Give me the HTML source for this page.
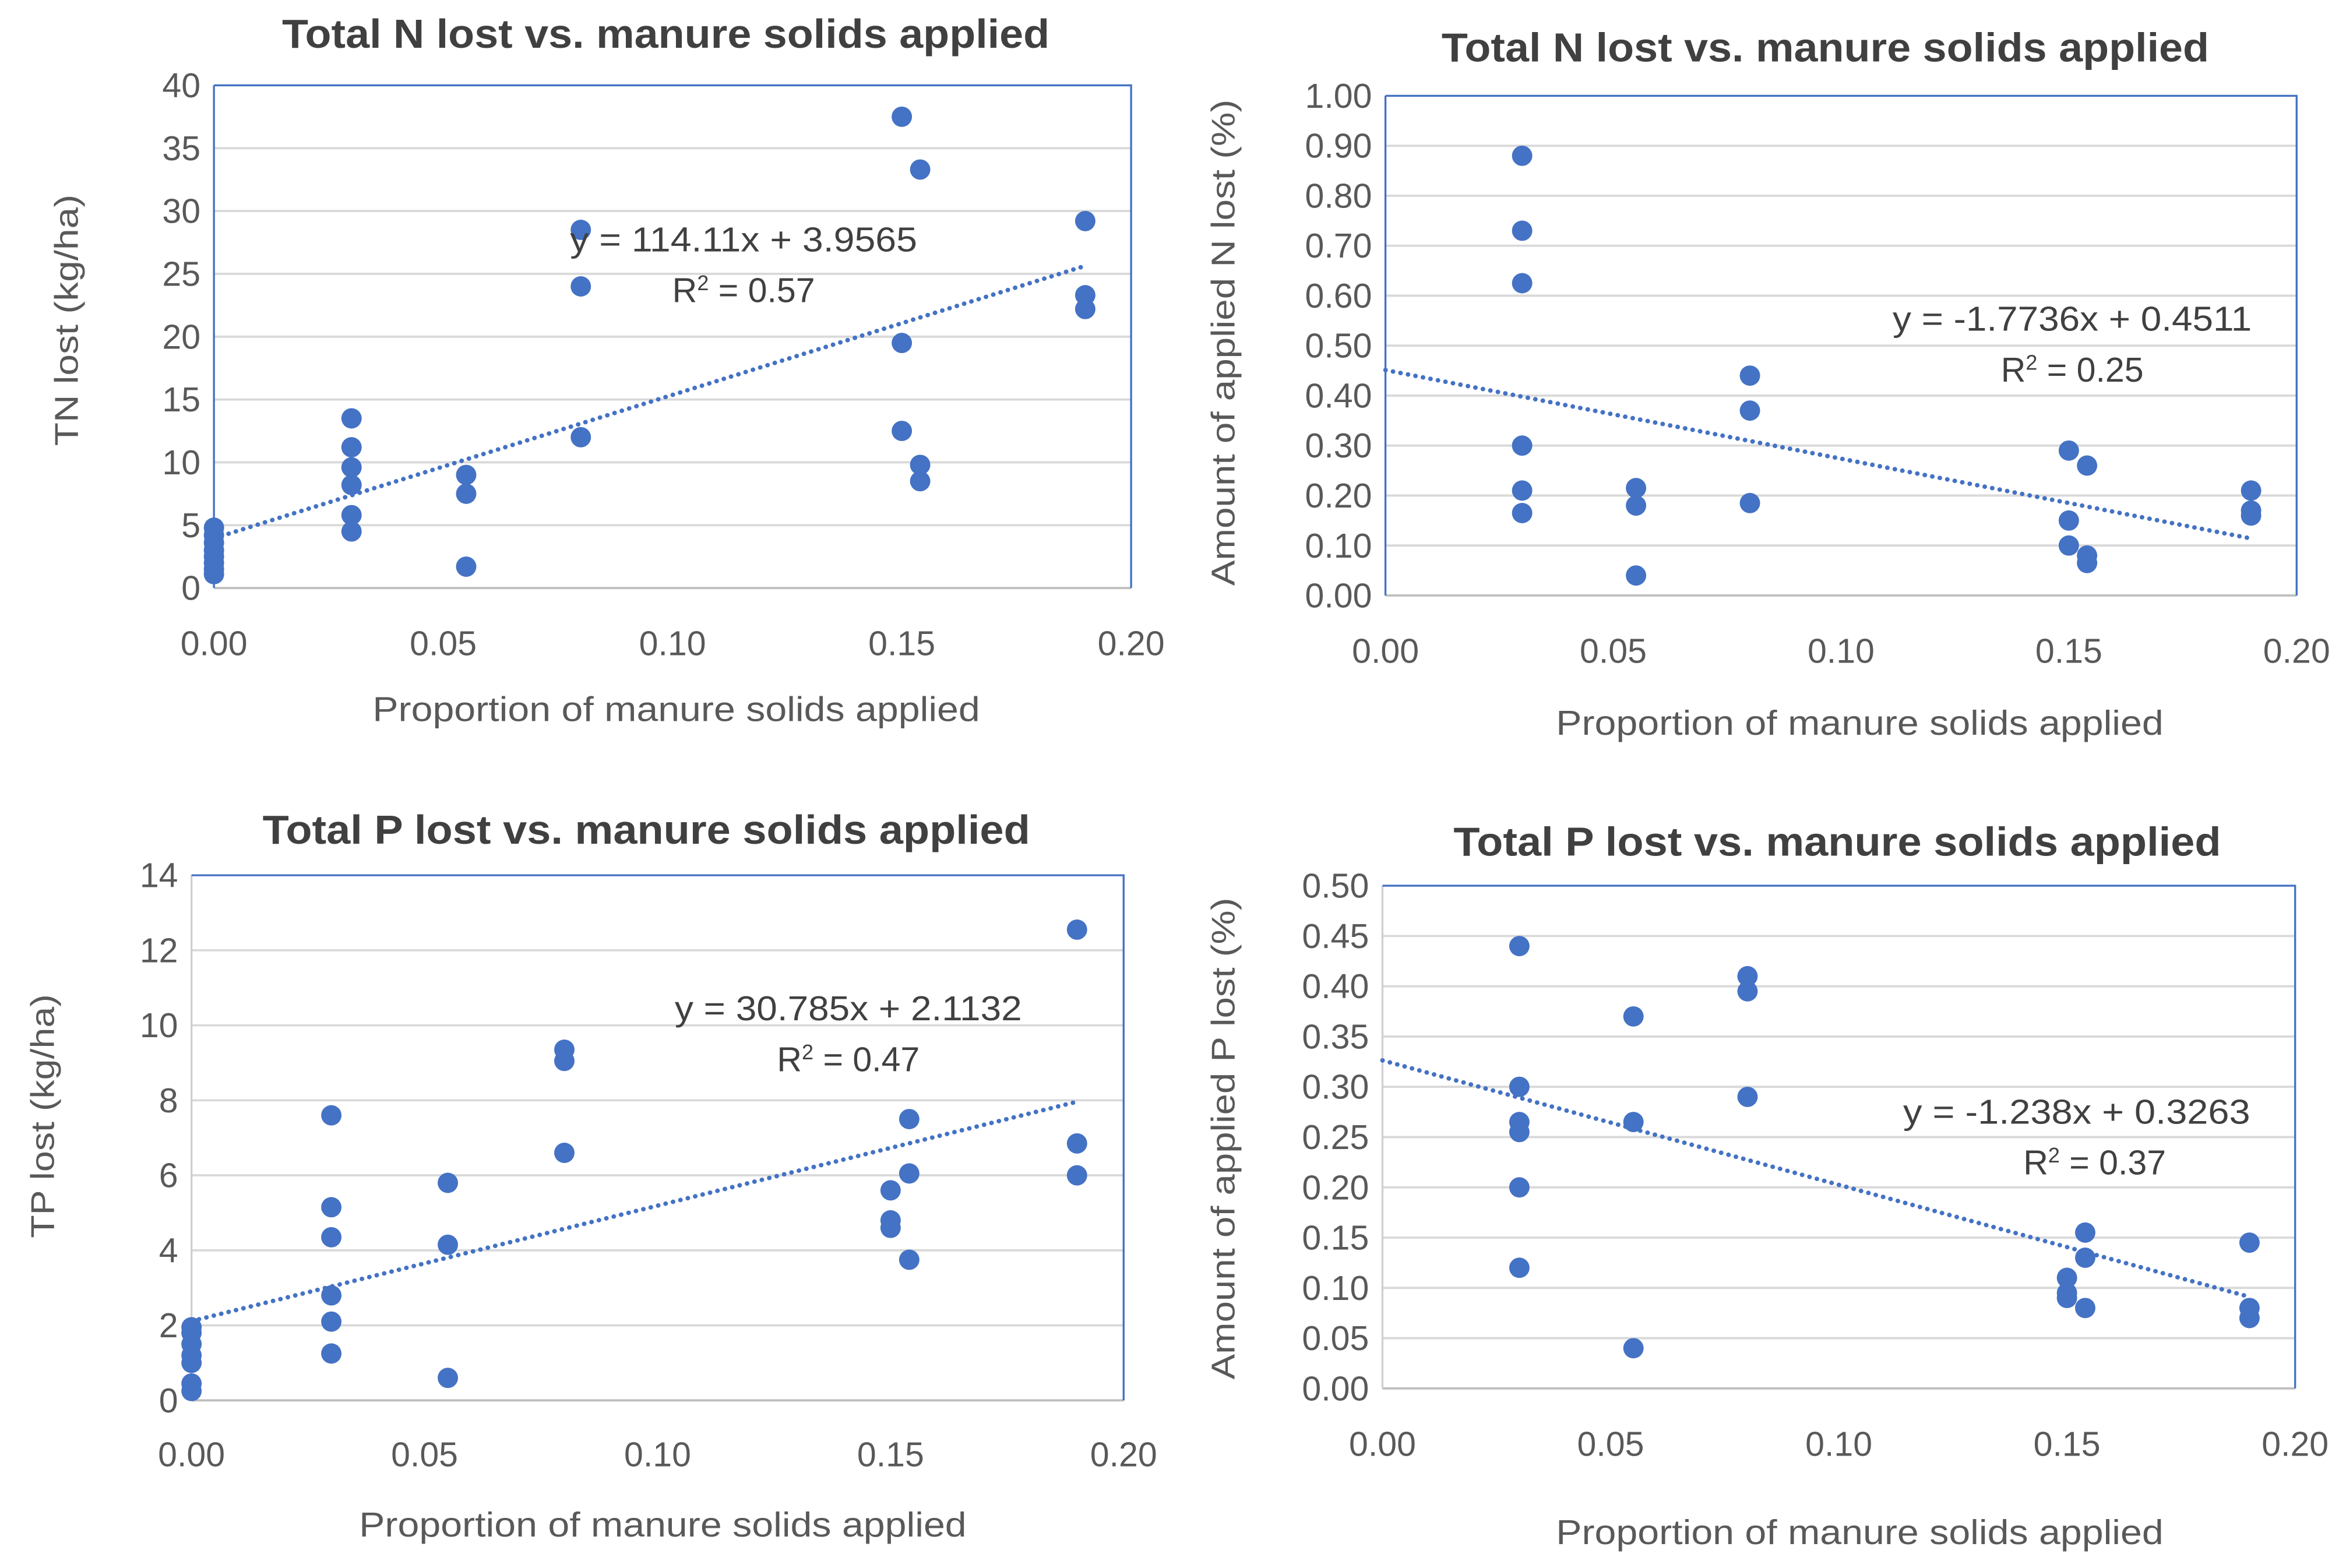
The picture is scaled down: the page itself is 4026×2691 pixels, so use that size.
<!DOCTYPE html>
<html><head><meta charset="utf-8"><style>
html,body{margin:0;padding:0;background:#fff;}
svg{display:block;}
text{font-family:"Liberation Sans",sans-serif;}
</style></head>
<body>
<svg id="fig" xmlns="http://www.w3.org/2000/svg" width="4026" height="2691" viewBox="0 0 1568 1048"></svg>
<script>
// ---- Chart 1 data: TN lost ----
const c1X = [0,0,0,0,0,0,0,0, 0.03,0.03,0.03,0.03,0.03,0.03, 0.055,0.055,0.055, 0.08,0.08,0.08, 0.15,0.15,0.15, 0.154,0.154,0.154, 0.19,0.19,0.19];
const c1Y = [4.8,4.2,3.6,3.0,2.5,2.0,1.5,1.1, 13.5,11.2,9.6,8.2,5.8,4.5, 9.0,7.5,1.7, 28.5,24.0,12.0, 37.5,19.5,12.5, 33.3,9.8,8.5, 29.2,23.3,22.2];
const c1Trend = [114.11, 3.9565];
const c1YTicks = ["0","5","10","15","20","25","30","35","40"];
// ---- Chart 2 data: applied N lost ----
const c2X = [0.03,0.03,0.03,0.03,0.03,0.03, 0.055,0.055,0.055, 0.08,0.08,0.08, 0.15,0.15,0.15, 0.154,0.154,0.154, 0.19,0.19,0.19];
const c2Y = [0.88,0.73,0.625,0.30,0.21,0.165, 0.215,0.18,0.04, 0.44,0.37,0.185, 0.29,0.15,0.10, 0.26,0.08,0.065, 0.21,0.17,0.16];
const c2Trend = [-1.7736, 0.4511];
const c2YTicks = ["0.00","0.10","0.20","0.30","0.40","0.50","0.60","0.70","0.80","0.90","1.00"];
// ---- Chart 3 data: TP lost ----
const c3X = [0,0,0,0,0,0,0, 0.03,0.03,0.03,0.03,0.03,0.03, 0.055,0.055,0.055, 0.08,0.08,0.08, 0.15,0.15,0.15, 0.154,0.154,0.154, 0.19,0.19,0.19];
const c3Y = [1.95,1.8,1.5,1.2,1.0,0.45,0.25, 7.6,5.15,4.35,2.8,2.1,1.25, 5.8,4.15,0.6, 9.35,9.05,6.6, 5.6,4.8,4.6, 7.5,6.05,3.75, 12.55,6.85,6.0];
const c3Trend = [30.785, 2.1132];
const c3YTicks = ["0","2","4","6","8","10","12","14"];
// ---- Chart 4 data: applied P lost ----
const c4X = [0.03,0.03,0.03,0.03,0.03,0.03, 0.055,0.055,0.055, 0.08,0.08,0.08, 0.15,0.15,0.15, 0.154,0.154,0.154, 0.19,0.19,0.19];
const c4Y = [0.44,0.30,0.265,0.255,0.20,0.12, 0.37,0.265,0.04, 0.41,0.395,0.29, 0.11,0.095,0.09, 0.155,0.13,0.08, 0.145,0.08,0.07];
const c4Trend = [-1.238, 0.3263];
const c4YTicks = ["0.00","0.05","0.10","0.15","0.20","0.25","0.30","0.35","0.40","0.45","0.50"];
const xTicks = ["0.00","0.05","0.10","0.15","0.20"];

const NS = "http://www.w3.org/2000/svg";
const fig = document.getElementById('fig');
function mk(tag, attrs, parent){
  const e = document.createElementNS(NS, tag);
  for (const k in attrs) e.setAttribute(k, attrs[k]);
  (parent||fig).appendChild(e);
  return e;
}
function chart(cfg){
  const g = mk('g', {});
  
  
  const ymax = parseFloat(cfg.yTicks[cfg.yTicks.length-1]);
  const sx = v => cfg.L + (v/0.2)*(cfg.R-cfg.L);
  const sy = v => cfg.B - (v/ymax)*(cfg.B-cfg.T);
  cfg.yTicks.forEach((t,i)=>{
    const v = parseFloat(t), y = sy(v);
    if (i>0 && i<cfg.yTicks.length-1){
      const gl = mk('line',{x1:cfg.L,x2:cfg.R,y1:y,y2:y,stroke:'#d9d9d9','stroke-width':1.5},g);
      
      
    }
    const tl = mk('text',{x:cfg.L-9,y:y+8,'text-anchor':'end','font-size':23,fill:'#595959'},g);
    tl.textContent = t;
    
    
  });
  xTicks.forEach(t=>{
    const x = sx(parseFloat(t));
    const tl = mk('text',{x:x,y:cfg.xTickY,'text-anchor':'middle','font-size':23,fill:'#595959'},g);
    tl.textContent = t;
    
    
  });
  const ax = mk('line',{x1:cfg.L,x2:cfg.R,y1:cfg.B,y2:cfg.B,stroke:'#bfbfbf','stroke-width':1.5},g);
  
  
  const lb = mk('line',{x1:cfg.L,x2:cfg.L,y1:cfg.T,y2:cfg.B,stroke:cfg.leftBlue?'#4472c4':'#d0d0d0','stroke-width':1.3},g);
  
  
  const tb = mk('polyline',{points:`${cfg.L},${cfg.T} ${cfg.R},${cfg.T} ${cfg.R},${cfg.B}`,fill:'none',stroke:'#4472c4','stroke-width':1.3},g);
  
  
  cfg.xs.forEach((xv,i)=>{
    const c = mk('circle',{cx:sx(xv),cy:sy(cfg.ys[i]),r:6.8,fill:'#4472c4'},g);
    
    
  });
  const tr = mk('line',{x1:sx(0),y1:sy(cfg.trend[1]),x2:sx(0.19),y2:sy(cfg.trend[0]*0.19+cfg.trend[1]),stroke:'#4472c4','stroke-width':3,'stroke-dasharray':'0.1 5','stroke-linecap':'round'},g);
  
  
  const eq = mk('text',{x:cfg.eqX,y:cfg.eqY,'text-anchor':'middle','font-size':23,fill:'#404040',textLength:cfg.eqW,lengthAdjust:'spacingAndGlyphs'},g);
  eq.textContent = cfg.eq;
  
  
  const r2 = mk('text',{x:cfg.r2X,y:cfg.eqY+34,'text-anchor':'middle','font-size':23,fill:'#404040'},g);
  r2.innerHTML = 'R<tspan dy="-8" font-size="14">2</tspan><tspan dy="8"> = '+cfg.r2+'</tspan>';
  
  
  const ti = mk('text',{x:cfg.titleX,y:cfg.titleY,'text-anchor':'middle','font-size':27,'font-weight':'bold',fill:'#404040',textLength:513,lengthAdjust:'spacingAndGlyphs'},g);
  ti.textContent = cfg.title;
  
  
  const xt = mk('text',{x:cfg.xTitleX,y:cfg.xTitleY,'text-anchor':'middle','font-size':23,fill:'#595959',textLength:406,lengthAdjust:'spacingAndGlyphs'},g);
  xt.textContent = 'Proportion of manure solids applied';
  
  
  const yt = mk('text',{x:0,y:0,'text-anchor':'middle','font-size':22,fill:'#595959',textLength:cfg.yTitleW,lengthAdjust:'spacingAndGlyphs',transform:`translate(${cfg.yTitleX},${cfg.yTitleY}) rotate(-90)`},g);
  yt.textContent = cfg.yTitle;
  
  
}
chart({name:'chart-tn-lost',L:143,R:756,T:57,B:393,xs:c1X,ys:c1Y,trend:c1Trend,yTicks:c1YTicks,leftBlue:true,
  xTickY:438,eq:'y = 114.11x + 3.9565',eqX:497,eqY:168,eqW:232,r2X:497,r2:'0.57',
  title:'Total N lost vs. manure solids applied',titleX:445,titleY:32,xTitleX:452,xTitleY:482,
  yTitle:'TN lost (kg/ha)',yTitleX:52,yTitleY:214,yTitleW:168});
chart({name:'chart-applied-n-lost',L:926,R:1535,T:64,B:398,xs:c2X,ys:c2Y,trend:c2Trend,yTicks:c2YTicks,leftBlue:true,
  xTickY:443,eq:'y = -1.7736x + 0.4511',eqX:1385,eqY:221,eqW:240,r2X:1385,r2:'0.25',
  title:'Total N lost vs. manure solids applied',titleX:1220,titleY:41,xTitleX:1243,xTitleY:491,
  yTitle:'Amount of applied N lost (%)',yTitleX:825,yTitleY:229,yTitleW:325});
chart({name:'chart-tp-lost',L:128,R:751,T:585,B:936,xs:c3X,ys:c3Y,trend:c3Trend,yTicks:c3YTicks,leftBlue:false,
  xTickY:980,eq:'y = 30.785x + 2.1132',eqX:567,eqY:682,eqW:232,r2X:567,r2:'0.47',
  title:'Total P lost vs. manure solids applied',titleX:432,titleY:564,xTitleX:443,xTitleY:1027,
  yTitle:'TP lost (kg/ha)',yTitleX:36,yTitleY:746,yTitleW:163});
chart({name:'chart-applied-p-lost',L:924,R:1534,T:592,B:928,xs:c4X,ys:c4Y,trend:c4Trend,yTicks:c4YTicks,leftBlue:false,
  xTickY:973,eq:'y = -1.238x + 0.3263',eqX:1388,eqY:751,eqW:232,r2X:1400,r2:'0.37',
  title:'Total P lost vs. manure solids applied',titleX:1228,titleY:572,xTitleX:1243,xTitleY:1032,
  yTitle:'Amount of applied P lost (%)',yTitleX:825,yTitleY:761,yTitleW:322});
</script>
</body></html>
